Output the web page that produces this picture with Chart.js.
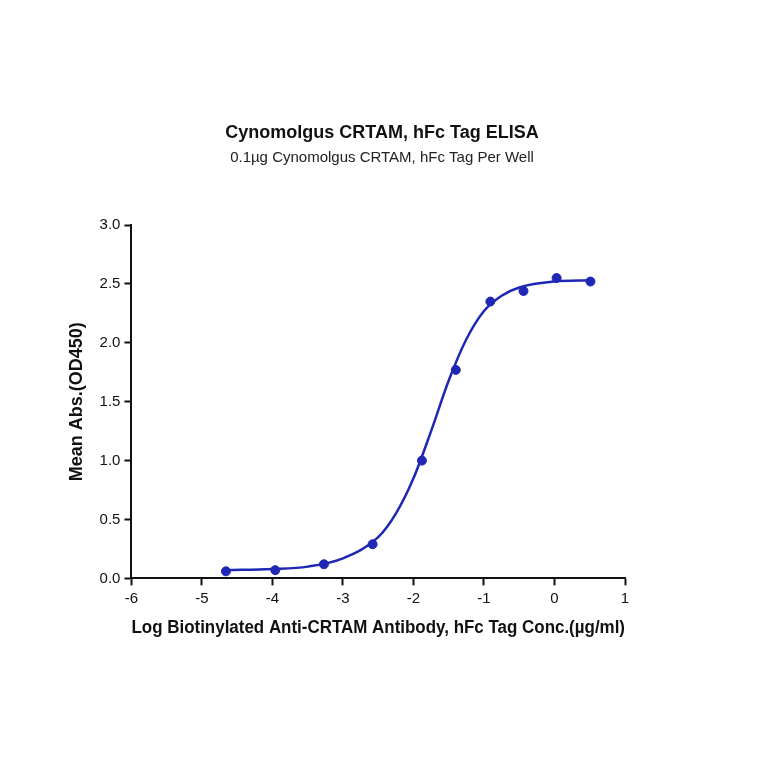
<!DOCTYPE html>
<html>
<head>
<meta charset="utf-8">
<script src="https://cdn.jsdelivr.net/npm/chart.js@4/dist/chart.umd.min.js"></script>
<style>
  html, body { margin: 0; padding: 0; background: #fff; }
  #wrap { width: 764px; height: 764px; }
</style>
</head>
<body>
<div id="wrap"><canvas id="chart" width="764" height="764"></canvas></div>
<script>
// Measured points (log conc, OD450)
const pointX = [-4.66, -3.96, -3.27, -2.58, -1.88, -1.40, -0.91, -0.44, 0.03, 0.51];
const pointY = [0.06, 0.07, 0.12, 0.29, 1.00, 1.77, 2.35, 2.44, 2.55, 2.52];

// Fitted curve
const curveX = [-4.66, -4.0, -3.5, -3.0, -2.5, -2.25, -2.0, -1.75, -1.5, -1.25, -1.0, -0.75, -0.5, 0.0, 0.51];
const curveY = [0.07, 0.08, 0.10, 0.17, 0.35, 0.55, 0.85, 1.25, 1.68, 2.03, 2.27, 2.40, 2.47, 2.52, 2.53];

const xTicks = [-6, -5, -4, -3, -2, -1, 0, 1];
const yTicks = [0.0, 0.5, 1.0, 1.5, 2.0, 2.5, 3.0];

const blue = '#1f27b5';
const fontFam = 'Arial, Liberation Sans';

// titles centred on the whole canvas
const headerPlugin = {
    id: 'header',
    afterDraw(chart) {
        const c = chart.ctx;
        c.save();
        c.textAlign = 'center';
        c.textBaseline = 'middle';
        c.fillStyle = '#111';
        c.font = 'bold 18px ' + fontFam;
        c.fillText('Cynomolgus CRTAM, hFc Tag ELISA', 382, 133);
        c.font = '15px ' + fontFam;
        c.fillStyle = '#222';
        c.fillText('0.1\u00b5g Cynomolgus CRTAM, hFc Tag Per Well', 382, 158);
        c.restore();
    }
};

new Chart(document.getElementById('chart'), {
    type: 'scatter',
    data: {
        datasets: [
            {
                type: 'line',
                data: curveX.map((x, i) => ({x: x, y: curveY[i]})),
                borderColor: blue,
                borderWidth: 2.5,
                pointRadius: 0,
                cubicInterpolationMode: 'monotone',
                fill: false
            },
            {
                data: pointX.map((x, i) => ({x: x, y: pointY[i]})),
                backgroundColor: blue,
                borderColor: blue,
                pointRadius: 4.5
            }
        ]
    },
    options: {
        responsive: false,
        animation: false,
        layout: { padding: { left: 62, right: 139, top: 225, bottom: 121 } },
        plugins: {
            legend: { display: false },
            tooltip: { enabled: false }
        },
        scales: {
            x: {
                type: 'linear',
                min: -6, max: 1,
                afterBuildTicks: axis => { axis.ticks = xTicks.map(v => ({value: v})); },
                grid: { drawOnChartArea: false, drawTicks: true, tickLength: 7, tickColor: '#111', tickWidth: 2 },
                border: { color: '#111', width: 2 },
                ticks: { color: '#111', font: { family: fontFam, size: 15 }, padding: 4 },
                title: {
                    display: true,
                    text: 'Log Biotinylated Anti-CRTAM Antibody, hFc Tag Conc.(\u00b5g/ml)',
                    color: '#111',
                    font: { family: fontFam, size: 18, weight: 'bold' },
                    padding: { top: 6 }
                }
            },
            y: {
                min: 0, max: 3,
                afterBuildTicks: axis => { axis.ticks = yTicks.map(v => ({value: v})); },
                grid: { drawOnChartArea: false, drawTicks: true, tickLength: 7, tickColor: '#111', tickWidth: 2 },
                border: { color: '#111', width: 2 },
                ticks: { color: '#111', font: { family: fontFam, size: 15 }, padding: 4,
                         callback: v => v.toFixed(1) },
                title: {
                    display: true,
                    text: 'Mean Abs.(OD450)',
                    color: '#111',
                    font: { family: fontFam, size: 18, weight: 'bold' },
                    padding: { bottom: 8 }
                }
            }
        }
    },
    plugins: [headerPlugin]
});
</script>
</body>
</html>
